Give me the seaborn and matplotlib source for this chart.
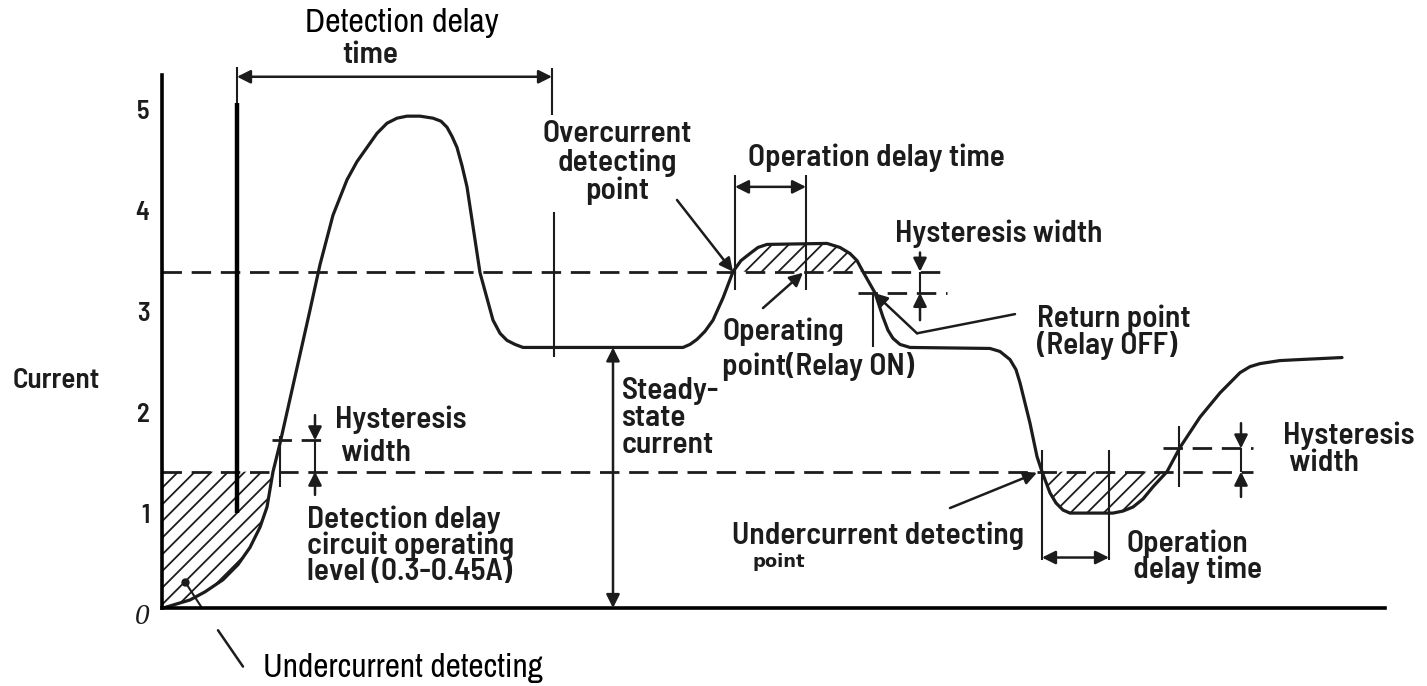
import numpy as np
import matplotlib
matplotlib.use('Agg')
import matplotlib.pyplot as plt
from matplotlib.transforms import ScaledTranslation
import seaborn as sns

# relay load current vs time
time_ms = np.array([1, 28, 43, 61, 76, 88, 98, 105, 111, 118,
                    128, 138, 148, 158, 171, 185, 195, 205, 215, 225,
                    235, 245, 258, 271, 279, 285, 290, 295, 300, 305,
                    318, 331, 338, 345, 353, 361, 378, 521, 528, 535,
                    543, 551, 561, 571, 579, 588, 596, 605, 665, 678,
                    688, 695, 701, 713, 721, 726, 731, 738, 748, 828,
                    838, 848, 854, 858, 863, 868, 875, 880, 888, 894,
                    901, 908, 951, 961, 971, 981, 991, 1005, 1018, 1028,
                    1038, 1058, 1078, 1088, 1098, 1118, 1138, 1180])
current_a = np.array([0.00, 0.08, 0.16, 0.28, 0.43, 0.60, 0.80, 1.00, 1.35, 1.63,
                      2.07, 2.51, 2.95, 3.40, 3.89, 4.24, 4.42, 4.56, 4.70, 4.80,
                      4.85, 4.87, 4.87, 4.85, 4.82, 4.76, 4.67, 4.56, 4.38, 4.17,
                      3.32, 2.85, 2.72, 2.65, 2.61, 2.58, 2.58, 2.58, 2.61, 2.66,
                      2.74, 2.85, 3.07, 3.33, 3.44, 3.51, 3.57, 3.60, 3.61, 3.57,
                      3.51, 3.44, 3.33, 3.12, 2.88, 2.75, 2.67, 2.61, 2.58, 2.57,
                      2.54, 2.46, 2.36, 2.23, 2.03, 1.83, 1.50, 1.35, 1.14, 1.04,
                      0.97, 0.94, 0.94, 0.96, 1.00, 1.08, 1.20, 1.35, 1.59, 1.74,
                      1.89, 2.13, 2.33, 2.39, 2.42, 2.45, 2.46, 2.48])

oc_level = 3.33         # overcurrent detecting level
oc_return = 3.12        # overcurrent return level
uc_level = 1.35         # undercurrent detecting level
uc_return_start = 1.66  # undercurrent return level (start-up)
uc_return_end = 1.58    # undercurrent return level (right)
steady_a = 2.58

ytick_vals = [0, 1, 2, 3, 4, 5]
ytick_labels = ['0', '1', '2', '3', '4', '5']

INK = '#1c1c1c'
LABEL_FONT = ['Barlow Semi Condensed', 'Barlow Condensed', 'Liberation Sans Narrow', 'DejaVu Sans']
PLAIN_FONT = ['Archivo Narrow', 'Liberation Sans Narrow', 'DejaVu Sans']

sns.set_style('white')
plt.rcParams['font.family'] = LABEL_FONT
plt.rcParams['hatch.linewidth'] = 1.3

fig = plt.figure(figsize=(14.27, 6.86), dpi=100)
ax = fig.add_axes([0, 0, 1, 1])
ax.set_xlim(-162, 1265)
ax.set_ylim(-0.772, 6.02)

# main waveform
sns.lineplot(x=time_ms, y=current_a, sort=False, color=INK, lw=2.3, ax=ax, legend=False)

# hatched regions
hatch_kw = dict(facecolor='none', edgecolor=INK, hatch='//', linewidth=0, interpolate=True)
ax.fill_between(time_ms, current_a, uc_level, where=(time_ms <= 111), **hatch_kw)
ax.fill_between(time_ms, current_a, oc_level,
                where=(time_ms >= 571) & (time_ms <= 701), **hatch_kw)
ax.fill_between(time_ms, current_a, uc_level,
                where=(time_ms >= 880) & (time_ms <= 1005), **hatch_kw)

# axes
for side in ['top', 'right']:
    ax.spines[side].set_visible(False)
ax.spines['left'].set_position(('data', 0))
ax.spines['left'].set_bounds(0, 5.28)
ax.spines['bottom'].set_position(('data', 0))
ax.spines['bottom'].set_bounds(0, 1223)
for side in ['left', 'bottom']:
    ax.spines[side].set_linewidth(2.6)
    ax.spines[side].set_color('black')
ax.set_xticks([])
ax.set_yticks(ytick_vals, ytick_labels)
ax.tick_params(axis='y', length=0, pad=9, labelsize=19, labelcolor=INK)
shift = ScaledTranslation(0, -0.06, fig.dpi_scale_trans)
for lab in ax.get_yticklabels():
    lab.set_fontweight('semibold')
    lab.set_transform(lab.get_transform() + shift)
zero = ax.get_yticklabels()[0]
zero.set_family(['Liberation Serif', 'DejaVu Serif'])
zero.set_fontstyle('italic')
zero.set_fontweight('normal')
zero.set_fontsize(21)
ax.set_ylabel('Current', rotation=0, fontsize=21, fontweight='semibold',
              color=INK, ha='center', va='center')
ax.yaxis.set_label_coords(56 / 1427, 1 - 380 / 686)

# threshold lines
dash = (0, (7, 3.5))
ax.hlines(oc_level, 0, 785, color=INK, lw=2, ls=dash)
ax.hlines(oc_return, 696, 785, color=INK, lw=2, ls=dash)
ax.hlines(uc_level, 0, 1091, color=INK, lw=2, ls=dash)
ax.hlines(uc_return_start, 110, 160, color=INK, lw=2, ls=dash)
ax.hlines(uc_return_end, 1001, 1091, color=INK, lw=2, ls=dash)

# guide lines
ax.vlines(75, 0.94, 5.0, color='black', lw=3.2)
ax.vlines(75, 5.0, 5.36, color=INK, lw=1.5)
ax.vlines(390, 4.88, 5.35, color=INK, lw=1.5)
ax.vlines(392, 2.49, 3.92, color=INK, lw=1.5)
ax.vlines([573, 644], 3.15, 4.29, color=INK, lw=1.5)
ax.vlines(711, 2.58, 3.12, color=INK, lw=1.5)
ax.vlines(118, 1.20, 1.70, color=INK, lw=1.5)
ax.vlines(1017, 1.20, 1.80, color=INK, lw=1.5)
ax.vlines([880, 947], 0.48, 1.56, color=INK, lw=1.5)

dbl = dict(arrowstyle='<|-|>', color=INK, lw=1.8, mutation_scale=20, shrinkA=0, shrinkB=0)
one = dict(arrowstyle='-|>', color=INK, lw=1.8, mutation_scale=20, shrinkA=0, shrinkB=0)
ax.annotate('', xy=(75, 5.26), xytext=(390, 5.26), arrowprops=dbl)
ax.annotate('', xy=(573, 4.17), xytext=(644, 4.17), arrowprops=dbl)
ax.annotate('', xy=(880, 0.50), xytext=(947, 0.50), arrowprops=dbl)
ax.annotate('', xy=(451, 0), xytext=(451, steady_a), arrowprops=dbl)


def hysteresis_marker(t, lo, hi, top, bottom):
    ax.vlines(t, lo, hi, color=INK, lw=1.5)
    ax.annotate('', xy=(t, hi), xytext=(t, top), arrowprops=one)
    ax.annotate('', xy=(t, lo), xytext=(t, bottom), arrowprops=one)


hysteresis_marker(153, uc_level, uc_return_start, 1.91, 1.12)
hysteresis_marker(758, oc_return, oc_level, 3.52, 2.85)
hysteresis_marker(1079, uc_level, uc_return_end, 1.83, 1.10)

# leader arrows
ax.annotate('', xy=(571, oc_level), xytext=(515, 4.04), arrowprops=one)
ax.annotate('', xy=(641, 3.32), xytext=(601, 2.97), arrowprops=one)
ax.plot([853, 755], [2.91, 2.72], color=INK, lw=1.8)
ax.annotate('', xy=(712, oc_return), xytext=(755, 2.72), arrowprops=one)
ax.annotate('', xy=(875, 1.34), xytext=(788, 0.99), arrowprops=one)
ax.plot([56, 81], [-0.22, -0.58], color=INK, lw=1.8)
ax.plot([23, 40], [0.26, 0.0], color=INK, lw=1.5)
ax.plot([23], [0.26], 'o', color=INK, ms=5)

# labels
bold = dict(fontsize=22.5, fontweight='semibold', color=INK)
ax.text(240, 5.79, 'Detection delay', fontsize=24.5, color='black', family=PLAIN_FONT,
        ha='center', va='center')
ax.text(208, 5.48, 'time', ha='center', va='center', **bold)
ax.text(455, 4.41, 'Overcurrent\ndetecting\npoint', ha='center', va='center',
        multialignment='center', linespacing=1.0, **bold)
ax.text(586, 4.46, 'Operation delay time', ha='left', va='center', **bold)
ax.text(733, 3.71, 'Hysteresis width', ha='left', va='center', **bold)
ax.text(560, 2.56, 'Operating\npoint(Relay ON)', ha='left', va='center',
        linespacing=1.25, **bold)
ax.text(875, 2.73, 'Return point\n(Relay OFF)', ha='left', va='center',
        linespacing=0.95, **bold)
ax.text(460, 1.88, 'Steady-\nstate\ncurrent', ha='left', va='center',
        linespacing=0.95, **bold)
ax.text(173, 1.70, 'Hysteresis\n width', ha='left', va='center',
        linespacing=1.2, **bold)
ax.text(145, 0.62, 'Detection delay\ncircuit operating\nlevel (0.3-0.45A)',
        ha='left', va='center', linespacing=0.9, **bold)
ax.text(570, 0.72, 'Undercurrent detecting', ha='left', va='center', **bold)
ax.text(590, 0.46, 'point', ha='left', va='center', fontsize=13,
        fontweight='bold', family=['DejaVu Sans'], color=INK)
ax.text(965, 0.51, 'Operation\n delay time', ha='left', va='center',
        linespacing=0.9, **bold)
ax.text(1121, 1.57, 'Hysteresis\n width', ha='left', va='center',
        linespacing=0.95, **bold)
ax.text(101, -0.59, 'Undercurrent detecting', fontsize=24, color='black',
        family=PLAIN_FONT, ha='left', va='center')

fig.savefig('out.png', dpi=100)
